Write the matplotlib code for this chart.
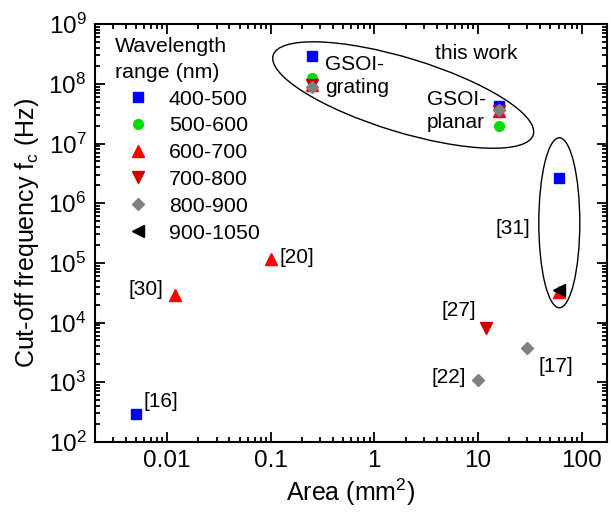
import numpy as np
import matplotlib
matplotlib.use("Agg")
import matplotlib.pyplot as plt
from matplotlib.patches import Ellipse
from matplotlib.transforms import ScaledTranslation
from matplotlib.ticker import FuncFormatter, FixedLocator, LogLocator, NullFormatter

plt.rcParams['font.family'] = ['Liberation Sans', 'DejaVu Sans']
plt.rcParams['mathtext.fontset'] = 'custom'
plt.rcParams['mathtext.rm'] = 'Liberation Sans'
plt.rcParams['mathtext.it'] = 'Liberation Sans'
plt.rcParams['mathtext.default'] = 'regular'

# data per wavelength range: area (mm^2), cut-off frequency (Hz)
labels = ['400-500', '500-600', '600-700', '700-800', '800-900', '900-1050']
x_400 = [0.005, 0.25, 16, 60]
y_400 = [290, 2.9e8, 4.2e7, 2.6e6]
x_500 = [0.25, 16]
y_500 = [1.25e8, 2.0e7]
x_600 = [0.012, 0.1, 0.25, 16, 60]
y_600 = [2.9e4, 1.15e5, 9.5e7, 3.5e7, 3.3e4]
x_700 = [12, 0.25, 16]
y_700 = [8.2e3, 9.5e7, 3.5e7]
x_800 = [10, 30, 0.25, 16]
y_800 = [1.1e3, 3.7e3, 9e7, 3.7e7]
x_900 = [60]
y_900 = [3.5e4]

x_ticks = [0.01, 0.1, 1, 10, 100]
y_ticks = [1e2, 1e3, 1e4, 1e5, 1e6, 1e7, 1e8, 1e9]

fig = plt.figure(figsize=(6.11, 5.15), dpi=100)
ax = fig.add_axes([0.155, 0.142, 0.838, 0.811])

ax.plot(x_400, y_400, 's', color='#0000ff', ms=6.5, ls='none', label=labels[0])
ax.plot(x_500, y_500, 'o', color='#00dd00', ms=7, ls='none', label=labels[1])
ax.plot(x_600, y_600, '^', color='#ff0000', ms=8, ls='none', label=labels[2])
ax.plot(x_700, y_700, 'v', color='#cc0000', ms=8, ls='none', label=labels[3])
ax.plot(x_800, y_800, 'D', color='#808080', ms=6.5, ls='none', label=labels[4])
ax.plot(x_900, y_900, '<', color='#000000', ms=8, ls='none', label=labels[5])

ax.set_xscale('log')
ax.set_yscale('log')
ax.set_xlim(0.002, 175)
ax.set_ylim(1e2, 1e9)

ax.xaxis.set_major_locator(FixedLocator(x_ticks))
ax.xaxis.set_minor_locator(LogLocator(base=10, subs=np.arange(2, 10), numticks=20))
ax.yaxis.set_major_locator(FixedLocator(y_ticks))
ax.yaxis.set_minor_locator(LogLocator(base=10, subs=np.arange(2, 10), numticks=20))
ax.xaxis.set_major_formatter(FuncFormatter(lambda v, p: '%g' % v))
ax.yaxis.set_major_formatter(FuncFormatter(lambda v, p: r'$10^{%d}$' % round(np.log10(v))))
ax.xaxis.set_minor_formatter(NullFormatter())
ax.yaxis.set_minor_formatter(NullFormatter())

ax.tick_params(which='both', direction='in', top=True, right=True, width=1.3, labelsize=17.5)
ax.tick_params(which='major', length=7, pad=6)
ax.tick_params(which='minor', length=3.5)
for s in ax.spines.values():
    s.set_linewidth(1.5)

ax.set_xlabel('Area (mm$^2$)', fontsize=18, labelpad=3)
ax.set_ylabel('Cut-off frequency f$_c$ (Hz)', fontsize=18, labelpad=5)

leg = ax.legend(loc='upper left', bbox_to_anchor=(0.0, 1.018), frameon=False,
                title='Wavelength\nrange (nm)', fontsize=15.4, title_fontsize=15.4,
                alignment='left', handletextpad=0.37, labelspacing=0.365,
                borderaxespad=0.55, handlelength=2.15, markerfirst=True)
leg.get_title().set_linespacing(1.45)

tk = dict(fontsize=15)
ax.text(0.0059, 470, '[16]', ha='left', va='center', **tk)
ax.text(0.0091, 3.6e4, '[30]', ha='right', va='center', **tk)
ax.text(0.121, 1.25e5, '[20]', ha='left', va='center', **tk)
ax.text(9.6, 1.6e4, '[27]', ha='right', va='center', **tk)
ax.text(7.66, 1180, '[22]', ha='right', va='center', **tk)
ax.text(38, 1800, '[17]', ha='left', va='center', **tk)
ax.text(32, 3.8e5, '[31]', ha='right', va='center', **tk)
ax.text(3.85, 3.2e8, 'this work', ha='left', va='center', **tk)
ax.text(0.336, 1.35e8, 'GSOI-\ngrating', ha='left', va='center', linespacing=1.3, **tk)
ax.text(3.2, 3.5e7, 'GSOI-\nplanar', ha='left', va='center', linespacing=1.3, **tk)

# ellipses drawn in inches, anchored at data points
tr1 = fig.dpi_scale_trans + ScaledTranslation(1.9, 6.5e7, ax.transData)
ax.add_patch(Ellipse((0, 0), 2.72, 0.74, angle=-17, fill=False, lw=1.0,
                     ec='black', transform=tr1))
tr2 = fig.dpi_scale_trans + ScaledTranslation(61, 4.7e5, ax.transData)
ax.add_patch(Ellipse((0, 0), 0.41, 1.70, angle=0, fill=False, lw=1.0,
                     ec='black', transform=tr2))

fig.savefig('out.png', dpi=100)
